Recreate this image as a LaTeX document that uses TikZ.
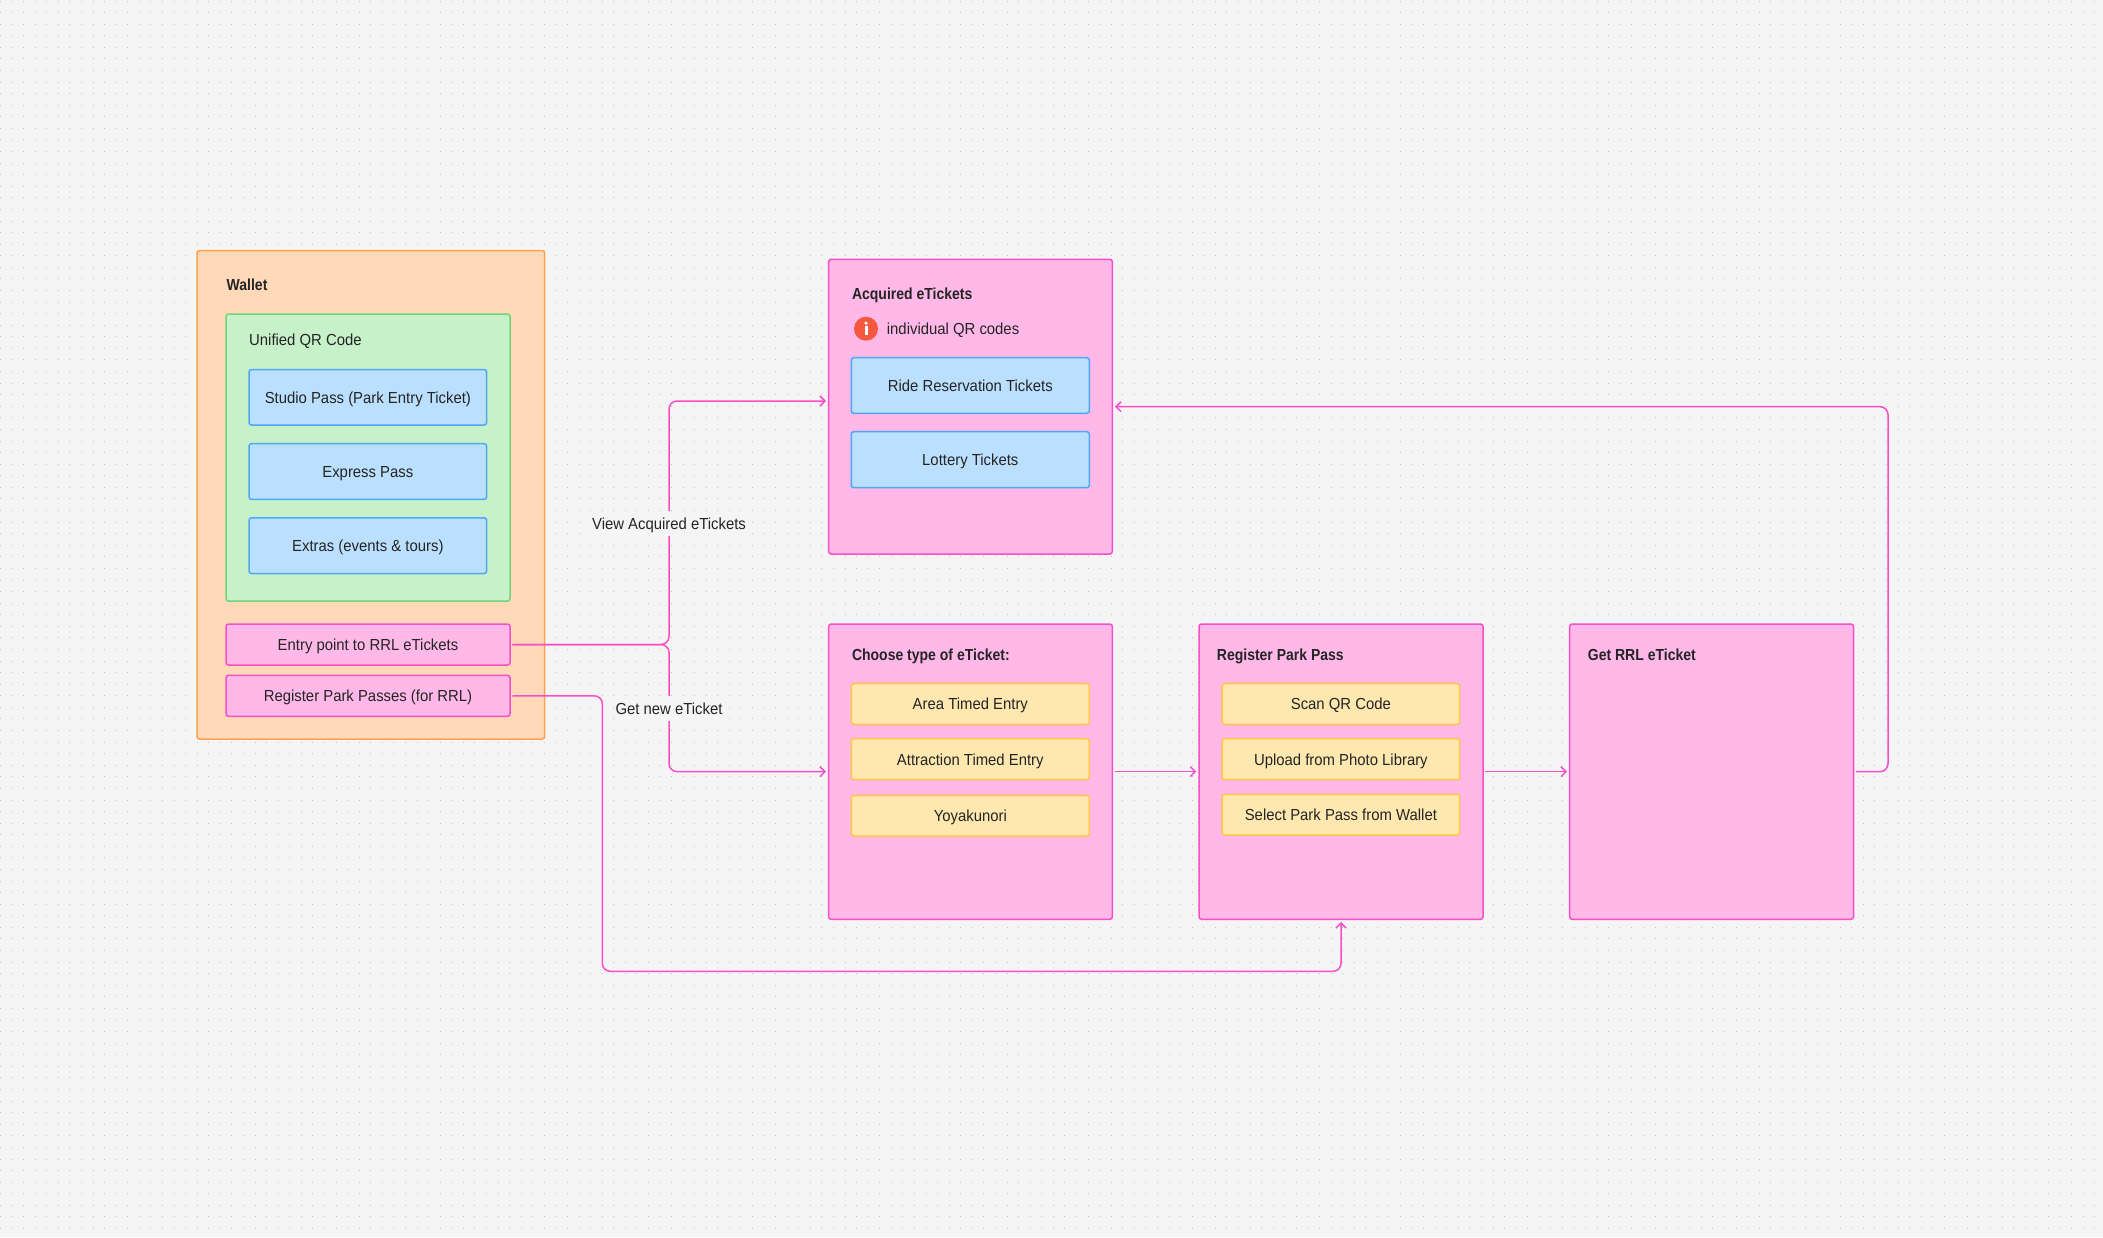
\documentclass[tikz,border=0pt]{standalone}
\usepackage{fontspec}
\setmainfont[FakeStretch=0.93,BoldFeatures={FakeStretch=0.875}]{Liberation Sans}
\usetikzlibrary{arrows.meta}
\definecolor{pagebg}{HTML}{F5F5F5}
\definecolor{griddot}{HTML}{C2C2C2}
\definecolor{ink}{HTML}{242424}
\definecolor{orfill}{HTML}{FFD9B8}
\definecolor{orline}{HTML}{FFA24F}
\definecolor{grfill}{HTML}{C7F2C9}
\definecolor{grline}{HTML}{6FD47A}
\definecolor{blfill}{HTML}{BBE0FF}
\definecolor{blline}{HTML}{4DA8F5}
\definecolor{pkfill}{HTML}{FFB8E8}
\definecolor{pkline}{HTML}{F84FC8}
\definecolor{yefill}{HTML}{FFE8B0}
\definecolor{yeline}{HTML}{FFC640}
\definecolor{infored}{HTML}{F4593F}
\tikzset{
  txt/.style={text=ink,text height=11.6pt,text depth=0pt,font=\fontsize{16}{19}\selectfont},
  basebox/.style={draw,line width=1.5pt,rounded corners=2.5pt,inner sep=0pt,outer sep=0pt,txt},
  orbox/.style={basebox,fill=orfill,draw=orline},
  grbox/.style={basebox,fill=grfill,draw=grline},
  blbox/.style={basebox,fill=blfill,draw=blline},
  pkbox/.style={basebox,fill=pkfill,draw=pkline},
  yebox/.style={basebox,fill=yefill,draw=yeline},
  plaintext/.style={anchor=west,inner sep=0pt,txt},
  titletext/.style={plaintext,font=\fontsize{16}{19}\selectfont\bfseries},
  edgelabel/.style={fill=pagebg,inner xsep=2pt,inner ysep=7pt,txt},
  flowplain/.style={draw=pkline,line width=1.5pt,rounded corners=8pt,shorten <=2.3pt},
  flow/.style={flowplain,shorten >=2.7pt,-{Straight Barb[length=5pt,width=10pt,line width=1.5pt]}},
}
\newcommand{\boxnode}[7]{%
  \node[#2,minimum width={(#5-#3)*1pt},minimum height={(#6-#4)*1pt}] (#1) at ({(#3+#5)/2},{(#4+#6)/2}) {#7};}
\begin{document}
\begin{tikzpicture}[x=1pt,y=-1pt]
\useasboundingbox (0,0) rectangle (2103,1237);
\fill[pagebg] (0,0) rectangle (2103,1237);
\foreach \r in {0,...,106}
  \draw[griddot,line width=1pt,dash pattern=on 1pt off 10.57pt] (0,{1+11.58*\r}) -- (2103,{1+11.58*\r});

\boxnode{wallet}{orbox}{197}{250.5}{544.7}{739}{}
\boxnode{unified}{grbox}{226}{314}{510}{601}{}
\boxnode{studio}{blbox}{249}{369.5}{486.7}{425}{Studio Pass (Park Entry Ticket)}
\boxnode{express}{blbox}{249}{443.7}{486.7}{499.3}{Express Pass}
\boxnode{extras}{blbox}{249}{517.8}{486.7}{573.5}{Extras (events \& tours)}
\boxnode{entry}{pkbox}{226}{624}{510}{665}{Entry point to RRL eTickets}
\boxnode{regpass}{pkbox}{226}{675.3}{510}{716.3}{Register Park Passes (for RRL)}
\node[titletext] (wallettitle) at (226.5,285) {Wallet};
\node[plaintext] (unifiedtitle) at (249,340) {Unified QR Code};

\boxnode{acquired}{pkbox}{828.7}{259.3}{1112.3}{554}{}
\node[titletext] (acqtitle) at (851.8,294) {Acquired eTickets};
\node[circle,fill=infored,minimum size=24pt,inner sep=0pt] (info) at (866,328.7) {};
\fill[white] (info.center) ++(-1.5,-2.7) rectangle ++(3,9.4);
\fill[white] (info.center) ++(0,-5.5) circle (1.8);
\node[plaintext] (indiv) at (886.7,329) {individual QR codes};
\boxnode{ride}{blbox}{851.3}{357.7}{1089.3}{413.3}{Ride Reservation Tickets}
\boxnode{lottery}{blbox}{851.3}{431.7}{1089.3}{487.7}{Lottery Tickets}

\boxnode{choose}{pkbox}{828.7}{624}{1112.3}{919.3}{}
\node[titletext] (choosetitle) at (851.8,654.7) {Choose type of eTicket:};
\boxnode{area}{yebox}{851.3}{683.7}{1089.3}{724.3}{Area Timed Entry}
\boxnode{attraction}{yebox}{851.3}{738.7}{1089.3}{779.7}{Attraction Timed Entry}
\boxnode{yoyaku}{yebox}{851.3}{795.5}{1089.3}{836}{Yoyakunori}

\boxnode{register}{pkbox}{1199}{624}{1483}{919.3}{}
\node[titletext] (registertitle) at (1216.7,654.7) {Register Park Pass};
\boxnode{scan}{yebox}{1222}{683.7}{1459.7}{724.3}{Scan QR Code}
\boxnode{upload}{yebox}{1222}{738.7}{1459.7}{779.7}{Upload from Photo Library}
\boxnode{select}{yebox}{1222}{794.3}{1459.7}{835}{Select Park Pass from Wallet}

\boxnode{getrrl}{pkbox}{1569.7}{624}{1853.5}{919.3}{}
\node[titletext] (getrrltitle) at (1587.7,654.7) {Get RRL eTicket};

\coordinate (viewturn) at (669,401);
\coordinate (newturn) at (669,771.65);
\coordinate (lowturn) at (602.3,971.3);
\coordinate (backturn) at (1888,406.65);
\draw[flow] (entry.east) -| (viewturn) -- (acquired.west |- viewturn);
\draw[flow] (entry.east) -| (newturn) -- (choose.west);
\draw[flow] (regpass.east) -| (lowturn) -| (register.south);
\draw[flow] (choose.east) -- (register.west);
\draw[flow] (register.east) -- (getrrl.west);
\draw[flow] (getrrl.east) -| (backturn) -- (acquired.east);
\node[edgelabel] (viewlabel) at (669,523.3) {View Acquired eTickets};
\node[edgelabel] (newlabel) at (669,708.3) {Get new eTicket};
\end{tikzpicture}
\end{document}
